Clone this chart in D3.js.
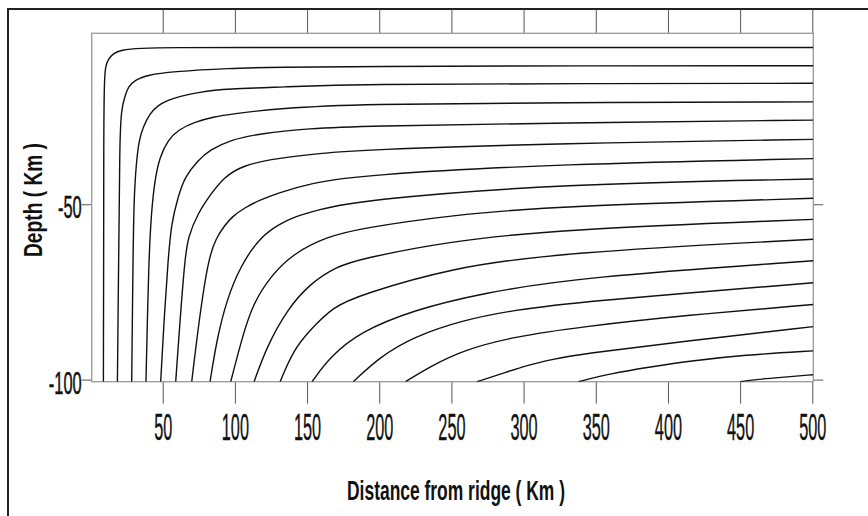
<!DOCTYPE html>
<html>
<head>
<meta charset="utf-8">
<script src="https://cdn.jsdelivr.net/npm/d3@7"></script>
<style>
  body { margin: 0; background: #fff; }
  svg { display: block; }
</style>
</head>
<body>
<script>
// isotherms: [distance from ridge (km), depth (km)]
const c01 = [[8.9,-100.6],[9.1,-66],[9.1,-32],[9.5,-14],[10.5,-10.5],[12.1,-8.8],[15.6,-7],[21.3,-6],[32.9,-5.5],[60.6,-5.3],[95,-5.3],[340,-5.3],[500.7,-5.3]];
const c02 = [[18.6,-100.6],[19.5,-65.9],[20.2,-31.7],[21.3,-23.1],[23.7,-19.3],[26,-16.5],[30.6,-14.6],[39.8,-13.1],[56,-12.2],[95.2,-11.2],[131.3,-10.9],[186.7,-10.7],[339,-10.5],[500.7,-10.5]];
const c03 = [[28.5,-100.6],[29.4,-65.9],[30.1,-47.9],[31.7,-38.2],[33.6,-31.7],[36.4,-28],[41,-24.1],[46.8,-21.7],[56,-19.8],[75.9,-17.9],[95.2,-17.1],[131.3,-16.6],[186.7,-15.7],[339,-15.6],[500.7,-15.5]];
const c04 = [[38.4,-100.6],[40.3,-65.9],[42.1,-52.5],[44.5,-43.1],[47.9,-36.5],[53.7,-31.7],[60.6,-28.8],[72.2,-26.5],[85.5,-25.1],[96.6,-24.3],[131.3,-22.6],[186.7,-21.4],[325.2,-21],[500.7,-20.8]];
const c05 = [[48.6,-100.6],[50.9,-83],[53.7,-65.9],[56,-55.4],[60.6,-47.9],[65.3,-42.2],[74.5,-37.4],[82.8,-34.5],[96.6,-31.7],[117.4,-29.8],[152,-28.4],[186.7,-27.7],[325.2,-26.8],[500.7,-26]];
const c06 = [[59,-100.6],[62,-83],[65.3,-65.9],[67.5,-59.3],[74.5,-52.5],[82.8,-47.4],[92,-42.4],[105.8,-38.8],[129,-36.9],[159,-35.5],[186.7,-34.5],[325.2,-32.6],[500.7,-31.5]];
const c07 = [[70.1,-100.6],[75.2,-83],[81.4,-65.9],[86.9,-59.6],[93.2,-55.9],[98,-53.6],[107,-50.9],[117.4,-48.8],[129,-46.9],[152,-44],[186.7,-41.7],[325.2,-38.5],[500.7,-37]];
const c08 = [[82.8,-100.6],[87.4,-88.7],[94.3,-77.3],[103.6,-67.8],[117.4,-59.3],[131.3,-55.6],[140.5,-53.7],[156.7,-51.7],[186.7,-48.8],[325.2,-44.2],[500.7,-42.8]];
const c09 = [[97.1,-100.6],[105.8,-86.8],[112.8,-78.3],[124.3,-70.7],[140.5,-64],[163.6,-59.3],[186.7,-56.9],[249,-53.1],[325.2,-50.5],[500.7,-48.3]];
const c10 = [[113.3,-100.6],[122.1,-90.6],[135.9,-80.2],[152,-72.6],[170.5,-67.8],[186.7,-65.6],[249,-60.5],[325.2,-57.2],[500.7,-54.3]];
const c11 = [[131.3,-100.6],[140.5,-91.6],[152,-85.9],[168.2,-79.2],[186.7,-75.9],[249,-68.2],[325.2,-63.8],[500.7,-60]];
const c12 = [[153.4,-100.6],[165.9,-93.5],[186.7,-86.4],[223.4,-80.2],[270.4,-75.4],[339.1,-70.8],[500.7,-66.1]];
const c13 = [[182,-100.6],[200.5,-93.5],[223.6,-87.8],[258.2,-83],[292.9,-80.2],[339.1,-77.8],[500.7,-72.4]];
const c14 = [[218.2,-100.6],[235.2,-96.3],[258.2,-91.6],[292.9,-87.8],[339.1,-85],[413.2,-81.6],[500.7,-78.6]];
const c15 = [[267.7,-100.6],[285.7,-98.2],[302.4,-95.9],[320.4,-94.2],[339.1,-92.7],[413.2,-89],[500.7,-84.9]];
const c16 = [[338,-100.6],[359.9,-98.3],[387.7,-96.4],[417.4,-94.6],[452,-93],[500.7,-91.8]];
const c17 = [[449.9,-100.6],[460.3,-100],[477.6,-99.4],[500.7,-98.6]];

const contours = [c01, c02, c03, c04, c05, c06, c07, c08, c09, c10, c11, c12, c13, c14, c15, c16, c17];

const xTicks = [50, 100, 150, 200, 250, 300, 350, 400, 450, 500];
const yTicks = [-50, -100];

const xTitle = 'Distance from ridge ( Km )';
const yTitle = 'Depth ( Km )';

// page size and plot box
const width = 868, height = 516;
const plot = { left: 91.7, right: 813.3, top: 33.3, bottom: 381.7 };

const svg = d3.select('body').append('svg')
  .attr('width', width)
  .attr('height', height)
  .style('font-family', '"Liberation Sans", Arial, sans-serif');

const x = d3.scaleLinear().domain([0.8, 500.7]).range([plot.left, plot.right]);
const y = d3.scaleLinear().domain([-100.6, -1.25]).range([plot.bottom, plot.top]);

// outer frame (only top and left show in the picture)
svg.append('path')
  .attr('d', 'M8,' + height + 'V9H' + width)
  .attr('fill', 'none')
  .attr('stroke', '#222')
  .attr('stroke-width', 2);

// top ticks run up to the outer frame
svg.append('g')
  .attr('transform', 'translate(0,' + plot.top + ')')
  .call(d3.axisTop(x).tickValues(xTicks).tickSize(24).tickFormat(''))
  .call(g => g.select('.domain').remove());

// bottom axis, tall narrow labels
const xAxis = svg.append('g')
  .attr('transform', 'translate(0,' + plot.bottom + ')')
  .call(d3.axisBottom(x).tickValues(xTicks).tickSize(22).tickPadding(0).tickFormat(d => String(d)));
xAxis.select('.domain').remove();
xAxis.selectAll('text')
  .attr('y', 58.5)
  .attr('dy', 0)
  .attr('font-size', 37)
  .attr('fill', '#111')
  .attr('stroke', '#111')
  .attr('stroke-width', 0.4)
  .attr('transform', 'scale(0.44,1)');

// left axis, plain hyphen as in the figure
const yAxis = svg.append('g')
  .attr('transform', 'translate(' + plot.left + ',0)')
  .call(d3.axisLeft(y).tickValues(yTicks).tickSize(10).tickPadding(0).tickFormat(d => String(d)));
yAxis.select('.domain').remove();
yAxis.selectAll('text')
  .attr('x', -10 / 0.53)
  .attr('y', 13.5)
  .attr('dy', 0)
  .attr('font-size', 31)
  .attr('fill', '#111')
  .attr('stroke', '#111')
  .attr('stroke-width', 0.5)
  .attr('transform', 'scale(0.53,1)');

// right ticks, no labels
svg.append('g')
  .attr('transform', 'translate(' + plot.right + ',0)')
  .call(d3.axisRight(y).tickValues(yTicks).tickSize(10).tickFormat(''))
  .call(g => g.select('.domain').remove());

svg.selectAll('.tick line').attr('stroke', '#555');

// plot box
svg.append('rect')
  .attr('x', plot.left)
  .attr('y', plot.top)
  .attr('width', plot.right - plot.left)
  .attr('height', plot.bottom - plot.top)
  .attr('fill', 'none')
  .attr('stroke', '#999')
  .attr('stroke-width', 1.3);

svg.append('clipPath').attr('id', 'box')
  .append('rect')
  .attr('x', plot.left)
  .attr('y', plot.top)
  .attr('width', plot.right - plot.left)
  .attr('height', plot.bottom - plot.top);

const line = d3.line()
  .x(d => x(d[0]))
  .y(d => y(d[1]))
  .curve(d3.curveBasis);

svg.append('g')
  .attr('clip-path', 'url(#box)')
  .selectAll('path')
  .data(contours)
  .join('path')
  .attr('d', line)
  .attr('fill', 'none')
  .attr('stroke', '#111')
  .attr('stroke-width', 1.4);

// axis titles
svg.append('text')
  .attr('x', 456)
  .attr('y', 499.5)
  .attr('text-anchor', 'middle')
  .attr('font-size', 27)
  .attr('font-weight', 'bold')
  .attr('fill', '#111')
  .attr('textLength', 218)
  .attr('lengthAdjust', 'spacingAndGlyphs')
  .text(xTitle);

svg.append('text')
  .attr('transform', 'translate(41.7,200) rotate(-90)')
  .attr('text-anchor', 'middle')
  .attr('font-size', 25.6)
  .attr('font-weight', 'bold')
  .attr('fill', '#111')
  .attr('textLength', 114)
  .attr('lengthAdjust', 'spacingAndGlyphs')
  .text(yTitle);
</script>
</body>
</html>
